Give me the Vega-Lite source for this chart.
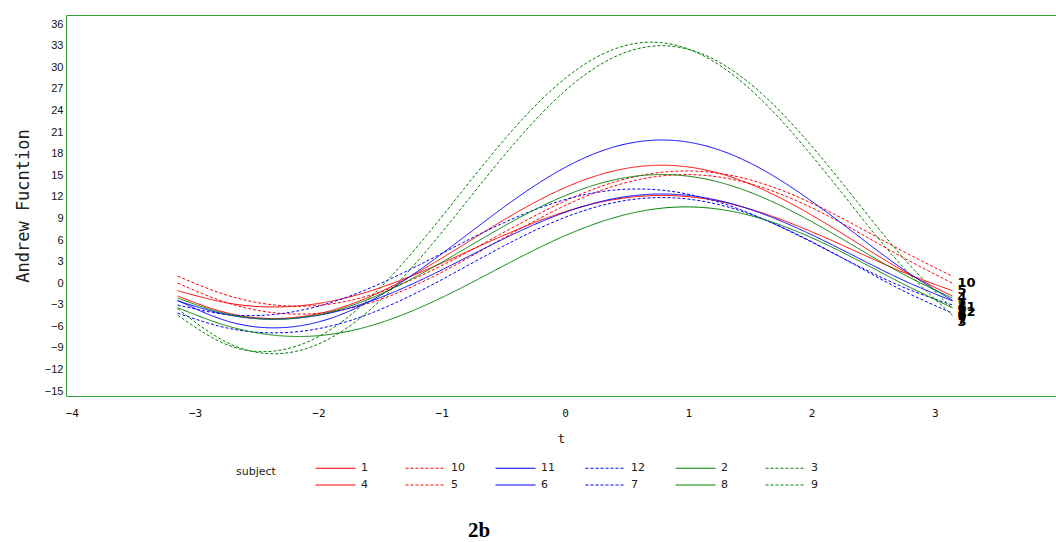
{
  "$schema": "https://vega.github.io/schema/vega-lite/v6.json",
  "width": 990,
  "height": 381,
  "autosize": {"type": "none"},
  "padding": {"left": 66, "top": 15, "right": 0, "bottom": 146},
  "background": "white",
  "title": {"text": "2b", "orient": "bottom", "anchor": "start", "frame": "group", "offset": 29, "dx": 402, "font": "Liberation Serif", "fontSize": 21, "fontWeight": "bold", "color": "#000000"},
  "config": {
    "view": {"stroke": "#2f9e2f", "strokeWidth": 1},
    "axis": {"grid": false, "domain": false, "ticks": false, "labelFont": "Liberation Sans", "labelFontSize": 11, "labelColor": "#111111", "titleFont": "DejaVu Sans Mono", "titleFontWeight": "normal", "titleColor": "#222222"}
  },
  "data": {"values": [
    {"subject":"1","t":-3.1416,"value":-1.78},{"subject":"1","t":-2.7489,"value":-4.09},{"subject":"1","t":-2.3562,"value":-4.90},{"subject":"1","t":-1.9635,"value":-4.09},{"subject":"1","t":-1.5708,"value":-1.78},{"subject":"1","t":-1.1781,"value":1.67},{"subject":"1","t":-0.7854,"value":5.75},{"subject":"1","t":-0.3927,"value":9.83},{"subject":"1","t":0,"value":13.28},{"subject":"1","t":0.3927,"value":15.59},{"subject":"1","t":0.7854,"value":16.40},{"subject":"1","t":1.1781,"value":15.59},{"subject":"1","t":1.5708,"value":13.28},{"subject":"1","t":1.9635,"value":9.83},{"subject":"1","t":2.3562,"value":5.75},{"subject":"1","t":2.7489,"value":1.67},{"subject":"1","t":3.1416,"value":-1.78},
    {"subject":"4","t":-3.1416,"value":-1.03},{"subject":"4","t":-2.7489,"value":-2.71},{"subject":"4","t":-2.3562,"value":-3.30},{"subject":"4","t":-1.9635,"value":-2.71},{"subject":"4","t":-1.5708,"value":-1.03},{"subject":"4","t":-1.1781,"value":1.48},{"subject":"4","t":-0.7854,"value":4.45},{"subject":"4","t":-0.3927,"value":7.42},{"subject":"4","t":0,"value":9.93},{"subject":"4","t":0.3927,"value":11.61},{"subject":"4","t":0.7854,"value":12.20},{"subject":"4","t":1.1781,"value":11.61},{"subject":"4","t":1.5708,"value":9.93},{"subject":"4","t":1.9635,"value":7.42},{"subject":"4","t":2.3562,"value":4.45},{"subject":"4","t":2.7489,"value":1.48},{"subject":"4","t":3.1416,"value":-1.03},
    {"subject":"10","t":-3.1416,"value":0.98},{"subject":"10","t":-2.7489,"value":-1.62},{"subject":"10","t":-2.3562,"value":-3.02},{"subject":"10","t":-1.9635,"value":-3.02},{"subject":"10","t":-1.5708,"value":-1.62},{"subject":"10","t":-1.1781,"value":0.98},{"subject":"10","t":-0.7854,"value":4.37},{"subject":"10","t":-0.3927,"value":8.03},{"subject":"10","t":0,"value":11.42},{"subject":"10","t":0.3927,"value":14.02},{"subject":"10","t":0.7854,"value":15.42},{"subject":"10","t":1.1781,"value":15.42},{"subject":"10","t":1.5708,"value":14.02},{"subject":"10","t":1.9635,"value":11.42},{"subject":"10","t":2.3562,"value":8.03},{"subject":"10","t":2.7489,"value":4.37},{"subject":"10","t":3.1416,"value":0.98},
    {"subject":"5","t":-3.1416,"value":0.01},{"subject":"5","t":-2.7489,"value":-2.67},{"subject":"5","t":-2.3562,"value":-4.11},{"subject":"5","t":-1.9635,"value":-4.11},{"subject":"5","t":-1.5708,"value":-2.67},{"subject":"5","t":-1.1781,"value":0.01},{"subject":"5","t":-0.7854,"value":3.51},{"subject":"5","t":-0.3927,"value":7.29},{"subject":"5","t":0,"value":10.79},{"subject":"5","t":0.3927,"value":13.47},{"subject":"5","t":0.7854,"value":14.91},{"subject":"5","t":1.1781,"value":14.91},{"subject":"5","t":1.5708,"value":13.47},{"subject":"5","t":1.9635,"value":10.79},{"subject":"5","t":2.3562,"value":7.29},{"subject":"5","t":2.7489,"value":3.51},{"subject":"5","t":3.1416,"value":0.01},
    {"subject":"11","t":-3.1416,"value":-2.38},{"subject":"11","t":-2.7489,"value":-5.21},{"subject":"11","t":-2.3562,"value":-6.20},{"subject":"11","t":-1.9635,"value":-5.21},{"subject":"11","t":-1.5708,"value":-2.38},{"subject":"11","t":-1.1781,"value":1.86},{"subject":"11","t":-0.7854,"value":6.85},{"subject":"11","t":-0.3927,"value":11.84},{"subject":"11","t":0,"value":16.08},{"subject":"11","t":0.3927,"value":18.91},{"subject":"11","t":0.7854,"value":19.90},{"subject":"11","t":1.1781,"value":18.91},{"subject":"11","t":1.5708,"value":16.08},{"subject":"11","t":1.9635,"value":11.84},{"subject":"11","t":2.3562,"value":6.85},{"subject":"11","t":2.7489,"value":1.86},{"subject":"11","t":3.1416,"value":-2.38},
    {"subject":"6","t":-3.1416,"value":-2.45},{"subject":"6","t":-2.7489,"value":-4.34},{"subject":"6","t":-2.3562,"value":-5.00},{"subject":"6","t":-1.9635,"value":-4.34},{"subject":"6","t":-1.5708,"value":-2.45},{"subject":"6","t":-1.1781,"value":0.37},{"subject":"6","t":-0.7854,"value":3.70},{"subject":"6","t":-0.3927,"value":7.03},{"subject":"6","t":0,"value":9.85},{"subject":"6","t":0.3927,"value":11.74},{"subject":"6","t":0.7854,"value":12.40},{"subject":"6","t":1.1781,"value":11.74},{"subject":"6","t":1.5708,"value":9.85},{"subject":"6","t":1.9635,"value":7.03},{"subject":"6","t":2.3562,"value":3.70},{"subject":"6","t":2.7489,"value":0.37},{"subject":"6","t":3.1416,"value":-2.45},
    {"subject":"12","t":-3.1416,"value":-3.02},{"subject":"12","t":-2.7489,"value":-4.33},{"subject":"12","t":-2.3562,"value":-4.33},{"subject":"12","t":-1.9635,"value":-3.02},{"subject":"12","t":-1.5708,"value":-0.59},{"subject":"12","t":-1.1781,"value":2.58},{"subject":"12","t":-0.7854,"value":6.02},{"subject":"12","t":-0.3927,"value":9.19},{"subject":"12","t":0,"value":11.62},{"subject":"12","t":0.3927,"value":12.93},{"subject":"12","t":0.7854,"value":12.93},{"subject":"12","t":1.1781,"value":11.62},{"subject":"12","t":1.5708,"value":9.19},{"subject":"12","t":1.9635,"value":6.02},{"subject":"12","t":2.3562,"value":2.58},{"subject":"12","t":2.7489,"value":-0.59},{"subject":"12","t":3.1416,"value":-3.02},
    {"subject":"7","t":-3.1416,"value":-4.15},{"subject":"7","t":-2.7489,"value":-6.19},{"subject":"7","t":-2.3562,"value":-6.90},{"subject":"7","t":-1.9635,"value":-6.19},{"subject":"7","t":-1.5708,"value":-4.15},{"subject":"7","t":-1.1781,"value":-1.10},{"subject":"7","t":-0.7854,"value":2.50},{"subject":"7","t":-0.3927,"value":6.10},{"subject":"7","t":0,"value":9.15},{"subject":"7","t":0.3927,"value":11.19},{"subject":"7","t":0.7854,"value":11.90},{"subject":"7","t":1.1781,"value":11.19},{"subject":"7","t":1.5708,"value":9.15},{"subject":"7","t":1.9635,"value":6.10},{"subject":"7","t":2.3562,"value":2.50},{"subject":"7","t":2.7489,"value":-1.10},{"subject":"7","t":3.1416,"value":-4.15},
    {"subject":"2","t":-3.1416,"value":-2.06},{"subject":"2","t":-2.7489,"value":-4.24},{"subject":"2","t":-2.3562,"value":-5.00},{"subject":"2","t":-1.9635,"value":-4.24},{"subject":"2","t":-1.5708,"value":-2.06},{"subject":"2","t":-1.1781,"value":1.20},{"subject":"2","t":-0.7854,"value":5.05},{"subject":"2","t":-0.3927,"value":8.90},{"subject":"2","t":0,"value":12.16},{"subject":"2","t":0.3927,"value":14.34},{"subject":"2","t":0.7854,"value":15.10},{"subject":"2","t":1.1781,"value":14.34},{"subject":"2","t":1.5708,"value":12.16},{"subject":"2","t":1.9635,"value":8.90},{"subject":"2","t":2.3562,"value":5.05},{"subject":"2","t":2.7489,"value":1.20},{"subject":"2","t":3.1416,"value":-2.06},
    {"subject":"8","t":-3.1416,"value":-3.40},{"subject":"8","t":-2.7489,"value":-5.88},{"subject":"8","t":-2.3562,"value":-7.23},{"subject":"8","t":-1.9635,"value":-7.23},{"subject":"8","t":-1.5708,"value":-5.88},{"subject":"8","t":-1.1781,"value":-3.40},{"subject":"8","t":-0.7854,"value":-0.16},{"subject":"8","t":-0.3927,"value":3.36},{"subject":"8","t":0,"value":6.60},{"subject":"8","t":0.3927,"value":9.08},{"subject":"8","t":0.7854,"value":10.43},{"subject":"8","t":1.1781,"value":10.43},{"subject":"8","t":1.5708,"value":9.08},{"subject":"8","t":1.9635,"value":6.60},{"subject":"8","t":2.3562,"value":3.36},{"subject":"8","t":2.7489,"value":-0.16},{"subject":"8","t":3.1416,"value":-3.40},
    {"subject":"3","t":-3.1416,"value":-4.44},{"subject":"3","t":-2.7489,"value":-8.49},{"subject":"3","t":-2.3562,"value":-9.42},{"subject":"3","t":-1.9635,"value":-7.09},{"subject":"3","t":-1.5708,"value":-1.85},{"subject":"3","t":-1.1781,"value":5.49},{"subject":"3","t":-0.7854,"value":13.83},{"subject":"3","t":-0.3927,"value":21.90},{"subject":"3","t":0,"value":28.44},{"subject":"3","t":0.3927,"value":32.49},{"subject":"3","t":0.7854,"value":33.42},{"subject":"3","t":1.1781,"value":31.09},{"subject":"3","t":1.5708,"value":25.85},{"subject":"3","t":1.9635,"value":18.51},{"subject":"3","t":2.3562,"value":10.17},{"subject":"3","t":2.7489,"value":2.10},{"subject":"3","t":3.1416,"value":-4.44},
    {"subject":"9","t":-3.1416,"value":-3.53},{"subject":"9","t":-2.7489,"value":-8.17},{"subject":"9","t":-2.3562,"value":-9.80},{"subject":"9","t":-1.9635,"value":-8.17},{"subject":"9","t":-1.5708,"value":-3.53},{"subject":"9","t":-1.1781,"value":3.41},{"subject":"9","t":-0.7854,"value":11.60},{"subject":"9","t":-0.3927,"value":19.79},{"subject":"9","t":0,"value":26.73},{"subject":"9","t":0.3927,"value":31.37},{"subject":"9","t":0.7854,"value":33.00},{"subject":"9","t":1.1781,"value":31.37},{"subject":"9","t":1.5708,"value":26.73},{"subject":"9","t":1.9635,"value":19.79},{"subject":"9","t":2.3562,"value":11.60},{"subject":"9","t":2.7489,"value":3.41},{"subject":"9","t":3.1416,"value":-3.53}
  ]},
  "encoding": {
    "x": {"field": "t", "type": "quantitative", "title": "t",
          "scale": {"domain": [-4.047, 3.982], "nice": false, "zero": false},
          "axis": {"values": [-4, -3, -2, -1, 0, 1, 2, 3, 4], "labelPadding": 11, "titlePadding": 14, "titleFontSize": 13, "labelFont": "DejaVu Sans Mono", "labelFontSize": 11}},
    "y": {"field": "value", "type": "quantitative", "title": "Andrew Fucntion",
          "scale": {"domain": [-15.67, 37.27], "nice": false, "zero": false},
          "axis": {"values": [-15, -12, -9, -6, -3, 0, 3, 6, 9, 12, 15, 18, 21, 24, 27, 30, 33, 36], "labelPadding": 3, "titlePadding": 12, "titleFontSize": 17}}
  },
  "layer": [
    {
      "mark": {"type": "line", "interpolate": "natural", "strokeWidth": 1},
      "encoding": {
        "color": {"field": "subject", "type": "nominal", "title": "subject",
                  "scale": {"domain": ["1","10","11","12","2","3","4","5","6","7","8","9"],
                            "range": ["#ff0000","#ff0000","#0000ff","#0000ff","#008000","#008000","#ff0000","#ff0000","#0000ff","#0000ff","#008000","#008000"]},
                  "legend": {"orient": "none", "legendX": 170, "legendY": 447.5, "direction": "horizontal", "columns": 6, "titleOrient": "left", "titleBaseline": "bottom", "titleFont": "DejaVu Sans", "titleFontSize": 11, "titleFontWeight": "normal", "titleColor": "#222222", "labelFont": "DejaVu Sans", "labelFontSize": 11, "labelColor": "#222222", "symbolType": "M-5,0L5,0", "symbolSize": 64, "symbolStrokeWidth": 1.2, "labelOffset": 20, "columnPadding": 28, "rowPadding": 5, "gridAlign": "all", "titlePadding": 54, "padding": 0}},
        "strokeDash": {"field": "subject", "type": "nominal", "title": "subject",
                  "scale": {"domain": ["1","10","11","12","2","3","4","5","6","7","8","9"],
                            "range": [[1,0],[3,2],[1,0],[3,2],[1,0],[3,2],[1,0],[3,2],[1,0],[3,2],[1,0],[3,2]]}}
      }
    },
    {
      "transform": [{"filter": "datum.t > 3"}],
      "mark": {"type": "text", "align": "left", "dx": 5, "dy": 7, "font": "DejaVu Sans", "fontSize": 13, "fontWeight": "bold", "color": "#000000"},
      "encoding": {"text": {"field": "subject", "type": "nominal"}}
    }
  ]
}
